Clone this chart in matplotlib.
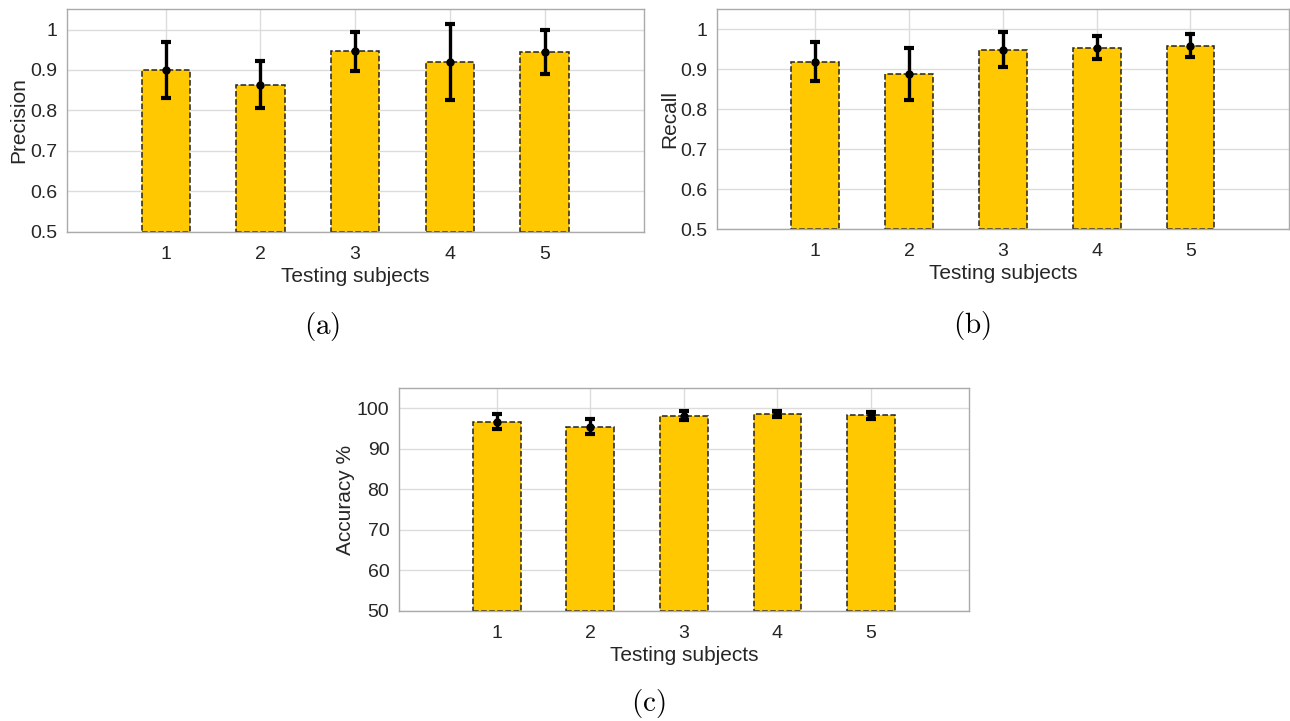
import matplotlib
matplotlib.use("Agg")
import matplotlib.pyplot as plt
import numpy as np

plt.rcParams['font.family'] = ['Liberation Sans', 'DejaVu Sans']
plt.rcParams['mathtext.fontset'] = 'cm'

subjects = [1, 2, 3, 4, 5]

precision = [0.900, 0.864, 0.946, 0.919, 0.944]
precision_err = [0.070, 0.057, 0.049, 0.094, 0.054]

recall = [0.919, 0.888, 0.949, 0.954, 0.959]
recall_err = [0.049, 0.066, 0.043, 0.029, 0.029]

accuracy = [96.7, 95.45, 98.2, 98.6, 98.35]
accuracy_err = [1.85, 1.85, 1.1, 0.8, 0.9]

bar_color = '#FFC800'
tick_color = '#262626'


def draw_panel(ax, values, errors, ylabel, ylim, yticks, yticklabels):
    x = np.array(subjects)
    ax.bar(x, np.array(values) - ylim[0], width=0.51, bottom=ylim[0],
           color=bar_color, edgecolor='#222222', linestyle='--', linewidth=1.1, zorder=2)
    ax.errorbar(x, values, yerr=errors, fmt='o', color='black', ecolor='black',
                markersize=5, elinewidth=2.4, capsize=3.5, capthick=3, zorder=3)
    ax.set_xlim(-0.045, 6.05)
    ax.set_ylim(*ylim)
    ax.set_xticks(x)
    ax.set_yticks(yticks)
    ax.set_yticklabels(yticklabels)
    ax.grid(True, color='#DCDCDC', linewidth=1.0, zorder=0)
    ax.set_axisbelow(True)
    for s in ax.spines.values():
        s.set_color('#AAAAAA')
        s.set_linewidth(1.0)
    ax.tick_params(direction='in', length=0, labelsize=14, colors=tick_color, pad=7)
    ax.tick_params(axis='x', pad=10)
    ax.set_xlabel('Testing subjects', fontsize=15, color=tick_color, labelpad=3)
    ax.set_ylabel(ylabel, fontsize=15, color=tick_color, labelpad=1)


fig = plt.figure(figsize=(12.9, 7.21), dpi=100)

ax1 = fig.add_axes([0.0517, 0.6786, 0.4475, 0.3085])
draw_panel(ax1, precision, precision_err, 'Precision', (0.5, 1.05),
           [0.5, 0.6, 0.7, 0.8, 0.9, 1.0], ['0.5', '0.6', '0.7', '0.8', '0.9', '1'])

ax2 = fig.add_axes([0.556, 0.682, 0.4432, 0.3051])
draw_panel(ax2, recall, recall_err, 'Recall', (0.5, 1.05),
           [0.5, 0.6, 0.7, 0.8, 0.9, 1.0], ['0.5', '0.6', '0.7', '0.8', '0.9', '1'])

ax3 = fig.add_axes([0.3093, 0.153, 0.4421, 0.3085])
draw_panel(ax3, accuracy, accuracy_err, 'Accuracy %', (50, 105),
           [50, 60, 70, 80, 90, 100], ['50', '60', '70', '80', '90', '100'])

fig.text(321.7 / 1290, 1 - 326.5 / 721, r'$\mathrm{(a)}$', fontsize=21, ha='center', va='center')
fig.text(971.7 / 1290, 1 - 326 / 721, r'$\mathrm{(b)}$', fontsize=21, ha='center', va='center')
fig.text(648 / 1290, 1 - 704 / 721, r'$\mathrm{(c)}$', fontsize=21, ha='center', va='center')

fig.savefig('out.png', dpi=100)
